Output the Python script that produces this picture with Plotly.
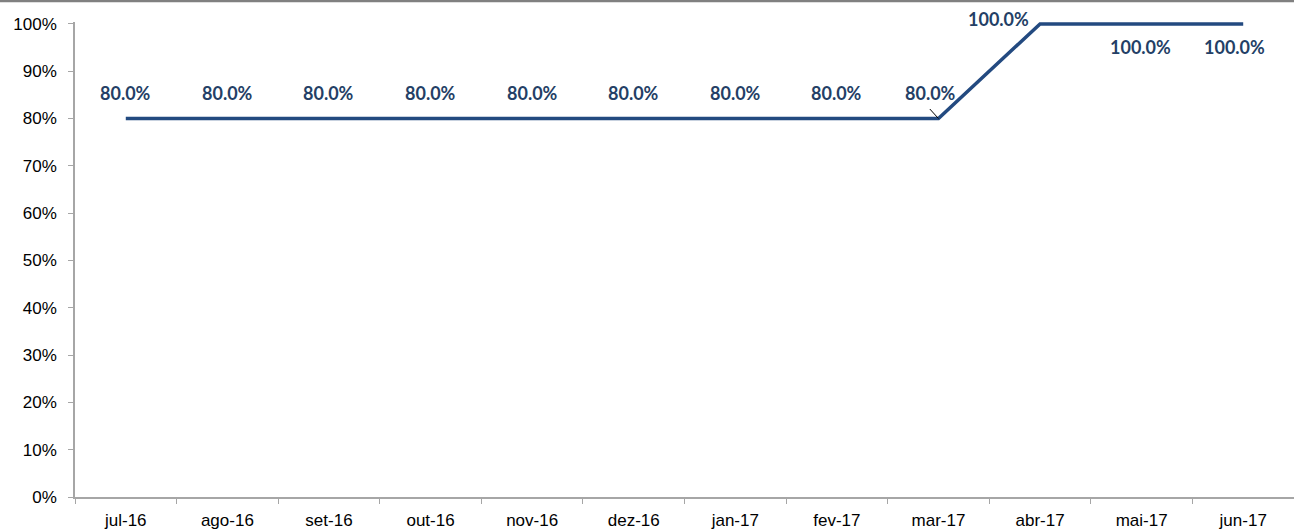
import plotly.graph_objects as go

months = ["jul-16", "ago-16", "set-16", "out-16", "nov-16", "dez-16",
          "jan-17", "fev-17", "mar-17", "abr-17", "mai-17", "jun-17"]
values = [0.80, 0.80, 0.80, 0.80, 0.80, 0.80, 0.80, 0.80, 0.80, 1.00, 1.00, 1.00]
y_ticks = [0, 0.1, 0.2, 0.3, 0.4, 0.5, 0.6, 0.7, 0.8, 0.9, 1.0]

# label pixel offsets (style, not data)
label_dx = [0, 0, 0, 0, 0, 0, 0, 0, -8, -42, -1, -9]
label_dy = [26, 26, 26, 26, 26, 26, 26, 26, 26, 5, -23, -23]

LINE = "#234a80"
LABEL = "#243f66"

fig = go.Figure()
fig.add_trace(go.Scatter(
    x=months, y=values, mode="lines",
    line=dict(color=LINE, width=3.5),
    hoverinfo="skip", showlegend=False,
))

for i, (m, v) in enumerate(zip(months, values)):
    fig.add_annotation(
        x=m, y=v, xref="x", yref="y",
        text=f"<b>{v*100:.1f}%</b>",
        font=dict(family="Lato, Open Sans, sans-serif", size=18, color=LABEL),
        xshift=label_dx[i], yshift=label_dy[i],
        showarrow=False,
    )

# leader line for mar-17
fig.add_annotation(x=months[8], y=values[8], xref="x", yref="y",
                   ax=-10, ay=-11, axref="pixel", ayref="pixel",
                   text="", showarrow=True, arrowhead=0, arrowwidth=1,
                   arrowcolor="black", standoff=0)

fig.update_layout(
    width=1294, height=531,
    margin=dict(l=75, r=0, t=22, b=34),
    paper_bgcolor="white", plot_bgcolor="white",
    font=dict(family="Arial, Liberation Sans, sans-serif", size=17, color="black"),
    shapes=[dict(type="line", xref="paper", yref="paper",
                 x0=-0.1, x1=1.1, y0=1 + 21 / 475, y1=1 + 21 / 475,
                 line=dict(color="#808080", width=2.5))],
)
fig.update_xaxes(
    type="category", range=[-0.5, 11.5],
    showline=True, linecolor="#a6a6a6", linewidth=1.5,
    ticks="outside", tickson="boundaries", ticklen=5, tickcolor="#a6a6a6",
    showgrid=False, zeroline=False, ticklabelstandoff=7,
)
fig.update_yaxes(
    range=[0, 1.004], tickvals=y_ticks,
    tickformat=".0%",
    showline=True, linecolor="#a6a6a6", linewidth=1.5,
    ticks="outside", ticklen=5, tickcolor="#a6a6a6",
    showgrid=False, zeroline=False, ticklabelstandoff=8,
)

fig.write_html("out.html", config={"displayModeBar": False},
               post_script="document.body.style.margin='0';document.body.style.overflow='hidden';")
